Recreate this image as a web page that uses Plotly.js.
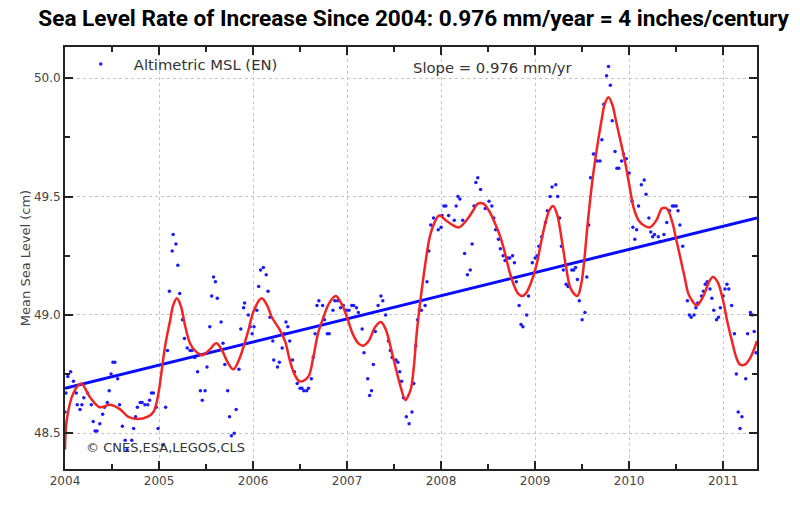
<!DOCTYPE html>
<html>
<head>
<meta charset="utf-8">
<script src="https://cdn.plot.ly/plotly-3.0.1.min.js"></script>
<style>html,body{margin:0;padding:0;background:#fff;}#chart{width:800px;height:505px;}</style>
</head>
<body>
<div id="chart"></div>
<script>
// Altimetric MSL observations (decimal year, cm)
var dotYears = [
2004.00,2004.01,2004.03,2004.06,2004.09,2004.12,2004.13,2004.16,2004.18,2004.20,
2004.24,2004.28,2004.30,2004.32,2004.34,2004.37,2004.40,2004.42,2004.45,2004.47,
2004.49,2004.51,2004.53,2004.56,2004.58,2004.61,2004.64,2004.66,2004.71,2004.73,
2004.75,2004.77,2004.80,2004.82,2004.85,2004.88,2004.90,2004.92,2004.94,2004.97,
2004.99,2005.04,2005.07,2005.09,2005.11,2005.14,2005.15,2005.18,2005.20,
2005.22,2005.25,2005.27,2005.30,2005.33,2005.35,2005.38,2005.41,2005.44,2005.46,
2005.49,2005.51,2005.54,2005.56,2005.58,2005.60,2005.62,2005.66,2005.68,2005.70,
2005.73,2005.75,2005.77,2005.80,2005.82,2005.85,2005.87,2005.90,2005.91,2005.95,
2005.97,2005.99,2006.01,2006.04,2006.06,2006.08,2006.11,2006.14,2006.16,2006.18,
2006.21,2006.22,2006.26,2006.28,2006.31,2006.33,2006.35,2006.37,2006.39,2006.42,
2006.44,2006.47,2006.50,2006.52,2006.54,2006.57,2006.59,2006.62,2006.64,2006.66,
2006.68,2006.70,2006.74,2006.76,2006.79,2006.81,2006.85,2006.87,2006.90,2006.93,
2006.96,2006.99,2007.02,2007.05,2007.07,2007.10,2007.12,2007.16,2007.18,2007.22,
2007.24,2007.26,2007.28,2007.30,2007.33,2007.36,2007.38,2007.41,2007.44,2007.46,
2007.48,2007.52,2007.54,2007.56,2007.58,2007.60,2007.63,2007.66,
2007.69,2007.71,2007.73,2007.75,2007.77,2007.79,2007.83,2007.85,2007.87,2007.89,
2007.92,2007.97,2008.00,2008.01,2008.03,2008.05,2008.08,2008.14,2008.16,2008.18,
2008.20,2008.23,2008.25,2008.28,2008.31,2008.33,2008.35,2008.37,2008.39,2008.42,
2008.47,2008.51,2008.54,2008.56,2008.58,2008.61,2008.63,2008.66,2008.68,2008.71,
2008.73,2008.76,2008.78,2008.80,2008.83,2008.85,2008.87,2008.91,2008.93,2008.97,
2009.00,2009.02,2009.04,2009.07,2009.11,2009.13,2009.16,2009.18,2009.22,2009.24,
2009.26,2009.28,2009.30,2009.33,2009.35,2009.39,2009.41,2009.43,2009.45,2009.47,
2009.50,2009.53,2009.55,2009.57,2009.59,2009.62,2009.64,2009.66,2009.69,2009.71,
2009.73,2009.76,2009.78,2009.80,2009.82,2009.85,2009.87,2009.89,2009.92,2009.94,
2009.97,2010.00,2010.03,2010.04,2010.06,2010.08,2010.10,2010.13,2010.16,2010.18,
2010.21,2010.23,2010.25,2010.27,2010.31,2010.33,2010.37,2010.40,2010.43,2010.46,
2010.48,2010.50,2010.52,2010.54,2010.57,2010.62,2010.64,2010.66,2010.69,2010.71,
2010.73,2010.77,2010.79,2010.81,2010.83,2010.86,2010.88,2010.90,2010.93,2010.95,
2010.97,2011.00,2011.02,2011.04,2011.06,2011.09,2011.12,2011.14,2011.16,2011.18,
2011.20,2011.24,2011.26,2011.29,2011.31,2011.33,2011.35
];
var dotLevels = [
48.59,48.67,48.74,48.76,48.72,48.67,48.62,48.60,48.62,48.65,
48.67,48.62,48.55,48.51,48.51,48.54,48.58,48.61,48.63,48.68,
48.75,48.80,48.80,48.73,48.62,48.53,48.47,48.43,48.47,48.52,
48.57,48.61,48.63,48.63,48.62,48.62,48.64,48.67,48.67,48.61,
48.52,48.45,48.61,48.85,49.10,49.27,49.34,49.30,49.21,
49.09,48.98,48.90,48.86,48.85,48.85,48.82,48.76,48.68,48.64,
48.68,48.78,48.95,49.08,49.16,49.14,49.07,48.97,48.88,48.79,
48.68,48.57,48.49,48.50,48.60,48.77,48.94,49.03,49.05,49.00,
48.95,48.92,48.95,49.02,49.12,49.19,49.20,49.17,49.10,48.99,
48.89,48.81,48.78,48.80,48.86,48.92,48.97,48.95,48.89,48.81,
48.76,48.71,48.69,48.69,48.68,48.68,48.69,48.73,48.82,48.92,
49.04,49.06,49.04,48.98,48.92,48.92,49.02,49.06,49.06,49.03,
49.04,49.02,49.02,49.04,49.04,49.03,49.01,48.94,48.84,48.73,
48.66,48.68,48.79,48.93,49.04,49.08,49.06,49.00,48.89,48.85,
48.82,48.81,48.80,48.76,48.72,48.65,48.57,48.54,
48.59,48.71,48.87,48.98,49.02,49.02,49.04,49.14,49.27,49.38,
49.41,49.36,49.37,49.42,49.46,49.46,49.42,49.40,49.46,49.50,
49.49,49.40,49.26,49.17,49.19,49.30,49.46,49.56,49.58,49.53,
49.45,49.48,49.46,49.41,49.36,49.32,49.28,49.25,49.23,49.24,
49.24,49.25,49.22,49.14,49.04,48.96,48.95,49.00,49.08,49.22,
49.24,49.25,49.29,49.33,49.39,49.44,49.50,49.54,49.55,49.50,
49.41,49.29,49.19,49.13,49.12,49.19,49.19,49.20,49.15,49.06,
48.98,49.01,49.16,49.38,49.58,49.68,49.68,49.65,49.65,49.74,
49.89,50.01,50.05,49.97,49.82,49.69,49.62,49.62,49.65,49.68,
49.66,49.60,49.48,49.37,49.32,49.36,49.46,49.55,49.57,49.51,
49.41,49.35,49.33,49.34,49.33,49.31,49.34,49.39,49.44,49.46,
49.46,49.46,49.44,49.38,49.29,49.06,49.00,48.99,49.00,49.03,
49.05,49.08,49.10,49.13,49.14,49.11,49.07,49.02,48.98,48.99,
49.03,49.08,49.11,49.13,49.11,49.04,48.92,48.75,48.59,48.52,
48.57,48.73,48.92,49.01,49.00,48.93,48.84
];

// Smoothed signal (red)
var smoothYears = [
2004.00,2004.02,2004.09,2004.17,2004.27,2004.37,2004.48,2004.59,2004.67,2004.77,
2004.88,2004.94,2004.98,2005.01,2005.04,2005.07,2005.12,2005.15,2005.19,2005.23,
2005.28,2005.33,2005.38,2005.46,2005.53,2005.61,2005.67,2005.73,2005.79,2005.85,
2005.94,2006.01,2006.09,2006.15,2006.20,2006.28,2006.34,2006.39,2006.44,2006.49,
2006.53,2006.59,2006.64,2006.69,2006.74,2006.81,2006.88,2006.95,2007.00,2007.06,
2007.12,2007.17,2007.23,2007.30,2007.36,2007.41,2007.49,2007.56,2007.62,2007.64,
2007.68,2007.71,2007.74,2007.78,2007.83,2007.88,2007.93,2007.98,2008.05,2008.12,
2008.19,2008.27,2008.34,2008.39,2008.45,2008.51,2008.57,2008.63,2008.68,2008.73,
2008.78,2008.82,2008.86,2008.90,2008.96,2009.02,2009.06,2009.11,2009.15,2009.19,
2009.23,2009.29,2009.33,2009.38,2009.45,2009.49,2009.52,2009.56,2009.61,2009.66,
2009.71,2009.74,2009.78,2009.82,2009.86,2009.90,2009.96,2010.01,2010.05,2010.10,
2010.15,2010.22,2010.29,2010.35,2010.40,2010.46,2010.50,2010.54,2010.59,2010.63,
2010.67,2010.72,2010.79,2010.85,2010.89,2010.94,2011.00,2011.04,2011.10,2011.14,
2011.18,2011.23,2011.29,2011.36
];
var smoothLevels = [
48.43,48.56,48.67,48.71,48.65,48.61,48.62,48.60,48.57,48.56,
48.57,48.59,48.64,48.71,48.80,48.88,48.98,49.04,49.07,49.04,
48.95,48.88,48.85,48.83,48.85,48.88,48.85,48.80,48.77,48.81,
48.92,49.02,49.07,49.04,48.99,48.94,48.89,48.81,48.75,48.72,
48.72,48.74,48.82,48.92,48.98,49.05,49.08,49.04,48.99,48.92,
48.88,48.87,48.89,48.95,48.97,48.94,48.82,48.71,48.64,48.65,
48.69,48.78,48.92,49.06,49.21,49.33,49.39,49.42,49.40,49.38,
49.37,49.40,49.44,49.47,49.47,49.44,49.39,49.33,49.26,49.18,
49.12,49.09,49.08,49.09,49.14,49.22,49.30,49.39,49.44,49.46,
49.43,49.30,49.20,49.11,49.08,49.13,49.22,49.39,49.57,49.71,
49.83,49.89,49.92,49.89,49.82,49.75,49.64,49.53,49.45,49.40,
49.38,49.37,49.40,49.45,49.45,49.39,49.32,49.25,49.16,49.09,
49.06,49.04,49.08,49.14,49.16,49.14,49.06,48.98,48.88,48.82,
48.79,48.79,48.82,48.89
];

// Linear trend (blue)
var trendYears = [2004.00, 2011.36];
var trendLevels = [48.69, 49.41];

var xTickVals = [2004, 2005, 2006, 2007, 2008, 2009, 2010, 2011];
var xTickText = ['2004', '2005', '2006', '2007', '2008', '2009', '2010', '2011'];
var yTickVals = [48.5, 49.0, 49.5, 50.0];
var yTickText = ['48.5', '49.0', '49.5', '50.0'];

var tickFont = {family: 'DejaVu Sans, sans-serif', size: 12, color: '#444'};

var traces = [
  {
    x: dotYears, y: dotLevels, type: 'scatter', mode: 'markers',
    name: 'Altimetric MSL (EN)',
    marker: {color: '#1a1aff', size: 3.5, symbol: 'circle', line: {width: 0}},
    showlegend: true, hoverinfo: 'x+y'
  },
  {
    x: trendYears, y: trendLevels, type: 'scatter', mode: 'lines',
    line: {color: '#0a0aff', width: 3}, showlegend: false
  },
  {
    x: smoothYears, y: smoothLevels, type: 'scatter', mode: 'lines',
    line: {color: '#f22525', width: 2.5, shape: 'spline', smoothing: 1}, showlegend: false
  }
];

var layout = {
  width: 800, height: 505,
  margin: {l: 65, r: 43, t: 47, b: 36, pad: 0},
  paper_bgcolor: '#ffffff', plot_bgcolor: '#ffffff',
  title: {
    text: '<b>Sea Level Rate of Increase Since 2004: 0.976 mm/year = 4 inches/century</b>',
    font: {family: 'Liberation Sans Narrow, Roboto, sans-serif', size: 22.6, color: '#000'},
    x: 0.517, xanchor: 'center', xref: 'container',
    y: 0.964, yanchor: 'middle', yref: 'container'
  },
  xaxis: {
    range: [2004, 2011.36], tickvals: xTickVals, ticktext: xTickText,
    ticks: 'inside', ticklen: 8, tickwidth: 2, tickcolor: '#222',
    showline: true, linewidth: 2, linecolor: '#222', mirror: 'allticks',
    showgrid: true, gridcolor: '#c4c4c4', griddash: 'dot', gridwidth: 1,
    zeroline: false, tickfont: tickFont,
    minor: {dtick: 0.5, tick0: 2004, ticks: 'inside', ticklen: 5, tickwidth: 2, tickcolor: '#222', showgrid: false}
  },
  yaxis: {
    range: [48.349, 50.132], tickvals: yTickVals, ticktext: yTickText,
    ticks: 'inside', ticklen: 8, tickwidth: 2, tickcolor: '#222',
    showline: true, linewidth: 2, linecolor: '#222', mirror: 'allticks',
    showgrid: true, gridcolor: '#c4c4c4', griddash: 'dot', gridwidth: 1,
    zeroline: false, tickfont: tickFont,
    title: {text: 'Mean Sea Level (cm)', font: {family: 'DejaVu Sans, sans-serif', size: 13, color: '#444'}, standoff: 0},
    minor: {dtick: 0.25, tick0: 48.5, ticks: 'inside', ticklen: 5, tickwidth: 2, tickcolor: '#222', showgrid: false}
  },
  showlegend: true,
  legend: {
    x: 0.004, xanchor: 'left', y: 0.998, yanchor: 'top',
    bgcolor: 'rgba(0,0,0,0)', borderwidth: 0,
    font: {family: 'DejaVu Sans, sans-serif', size: 14.8, color: '#333'},
    itemwidth: 56
  },
  annotations: [
    {text: 'Slope = 0.976 mm/yr', xref: 'paper', yref: 'paper', x: 0.500, y: 0.9526,
     xanchor: 'left', yanchor: 'middle', showarrow: false,
     font: {family: 'DejaVu Sans, sans-serif', size: 14.8, color: '#333'}},
    {text: '© CNES,ESA,LEGOS,CLS', xref: 'paper', yref: 'paper', x: 0.027, y: 0.052,
     xanchor: 'left', yanchor: 'middle', showarrow: false,
     font: {family: 'DejaVu Sans, sans-serif', size: 13, color: '#333'}}
  ]
};

Plotly.newPlot('chart', traces, layout, {displayModeBar: false, staticPlot: true});
</script>
</body>
</html>
